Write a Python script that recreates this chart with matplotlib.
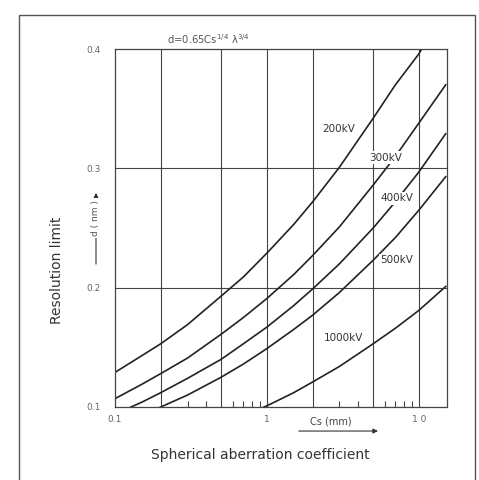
import matplotlib
matplotlib.use('Agg')
import matplotlib.pyplot as plt
from matplotlib.patches import Rectangle

# Spherical aberration coefficient Cs (mm) and resolution limit d (nm)
cs = [0.1, 0.15, 0.2, 0.3, 0.5, 0.7, 1, 1.5, 2, 3, 5, 7, 10, 15]
d_200kv = [0.129, 0.143, 0.153, 0.169, 0.193, 0.209, 0.229, 0.253, 0.272, 0.301, 0.342, 0.370, 0.396, 0.435]
d_300kv = [0.107, 0.119, 0.128, 0.141, 0.161, 0.175, 0.191, 0.211, 0.227, 0.251, 0.286, 0.310, 0.338, 0.370]
d_400kv = [0.094, 0.104, 0.112, 0.124, 0.140, 0.153, 0.167, 0.185, 0.199, 0.220, 0.250, 0.272, 0.297, 0.329]
d_500kv = [0.084, 0.093, 0.100, 0.110, 0.125, 0.136, 0.149, 0.165, 0.177, 0.196, 0.223, 0.242, 0.265, 0.293]
d_1000kv = [0.057, 0.063, 0.068, 0.075, 0.086, 0.093, 0.101, 0.112, 0.121, 0.134, 0.153, 0.166, 0.181, 0.201]

series = [d_200kv, d_300kv, d_400kv, d_500kv, d_1000kv]
names = ['200kV', '300kV', '400kV', '500kV', '1000kV']
label_pos = [(2.98, 0.333), (6.07, 0.309), (7.17, 0.275), (7.17, 0.223), (3.21, 0.158)]

x_grid = [0.2, 0.5, 1, 2, 5, 10]
y_grid = [0.2, 0.3]
x_minor = [0.3, 0.4, 0.6, 0.7, 0.8, 0.9, 3, 4, 6, 7, 8, 9]

fig = plt.figure(figsize=(4.79, 4.80), dpi=100)
ax = fig.add_axes([0.2401, 0.1521, 0.6931, 0.7458])

# outer frame (open at the bottom, runs off the picture)
fig.patches.append(Rectangle((0.0397, -0.05), 0.9519, 1.0187, transform=fig.transFigure,
                             fill=False, edgecolor='#555555', linewidth=1.0))

for xv in x_grid:
    ax.axvline(xv, color='#444444', linewidth=0.8, zorder=1)
for yv in y_grid:
    ax.axhline(yv, color='#444444', linewidth=0.8, zorder=1)

for vals in series:
    ax.plot(cs, vals, color='#222222', linewidth=1.2, zorder=2)

for name, (lx, ly) in zip(names, label_pos):
    ax.text(lx, ly, name, fontsize=7.5, color='#333333', ha='center', va='center', zorder=5,
            bbox=dict(facecolor='white', edgecolor='none', pad=1.0))

ax.set_xscale('log')
ax.set_xlim(0.1, 15.3)
ax.set_ylim(0.1, 0.4)

ax.set_xticks([0.1, 1, 10])
ax.set_xticklabels(['0.1', '1', '1 0'])
ax.set_xticks(x_minor, minor=True)
ax.set_xticklabels([], minor=True)
ax.set_yticks([0.1, 0.2, 0.3, 0.4])
ax.set_yticklabels(['0.1', '0.2', '0.3', '0.4'])
ax.tick_params(axis='both', which='major', length=0, labelsize=6.5, labelcolor='#666666')
ax.tick_params(axis='x', which='major', pad=6)
ax.tick_params(axis='y', which='major', pad=10)
ax.tick_params(axis='x', which='minor', direction='in', length=4, width=0.8, color='#444444')
ax.tick_params(axis='y', which='minor', length=0)

for sp in ax.spines.values():
    sp.set_color('#444444')
    sp.set_linewidth(0.9)

fig.text(0.349, 0.919, r'd=0.65Cs$^{1/4}$ λ$^{3/4}$', fontsize=7.2, color='#555555',
         ha='left', va='center')

# axis captions with arrows
fig.text(0.119, 0.4375, 'Resolution limit', rotation=90, fontsize=10, color='#333333',
         ha='center', va='center')
ax.annotate('', xy=(0.2004, 0.604), xytext=(0.2004, 0.444), xycoords='figure fraction',
            arrowprops=dict(arrowstyle='-|>', color='#333333', lw=0.8, mutation_scale=7))
fig.text(0.2004, 0.546, 'd ( nm )', rotation=90, fontsize=6.5, color='#555555',
         ha='center', va='center', bbox=dict(facecolor='white', edgecolor='none', pad=1.5))

fig.text(0.691, 0.121, 'Cs (mm)', fontsize=7, color='#444444', ha='center', va='center')
ax.annotate('', xy=(0.795, 0.102), xytext=(0.618, 0.102), xycoords='figure fraction',
            arrowprops=dict(arrowstyle='-|>', color='#333333', lw=0.8, mutation_scale=7))
fig.text(0.543, 0.052, 'Spherical aberration coefficient', fontsize=10, color='#333333',
         ha='center', va='center')

plt.savefig('out.png', dpi=100)
